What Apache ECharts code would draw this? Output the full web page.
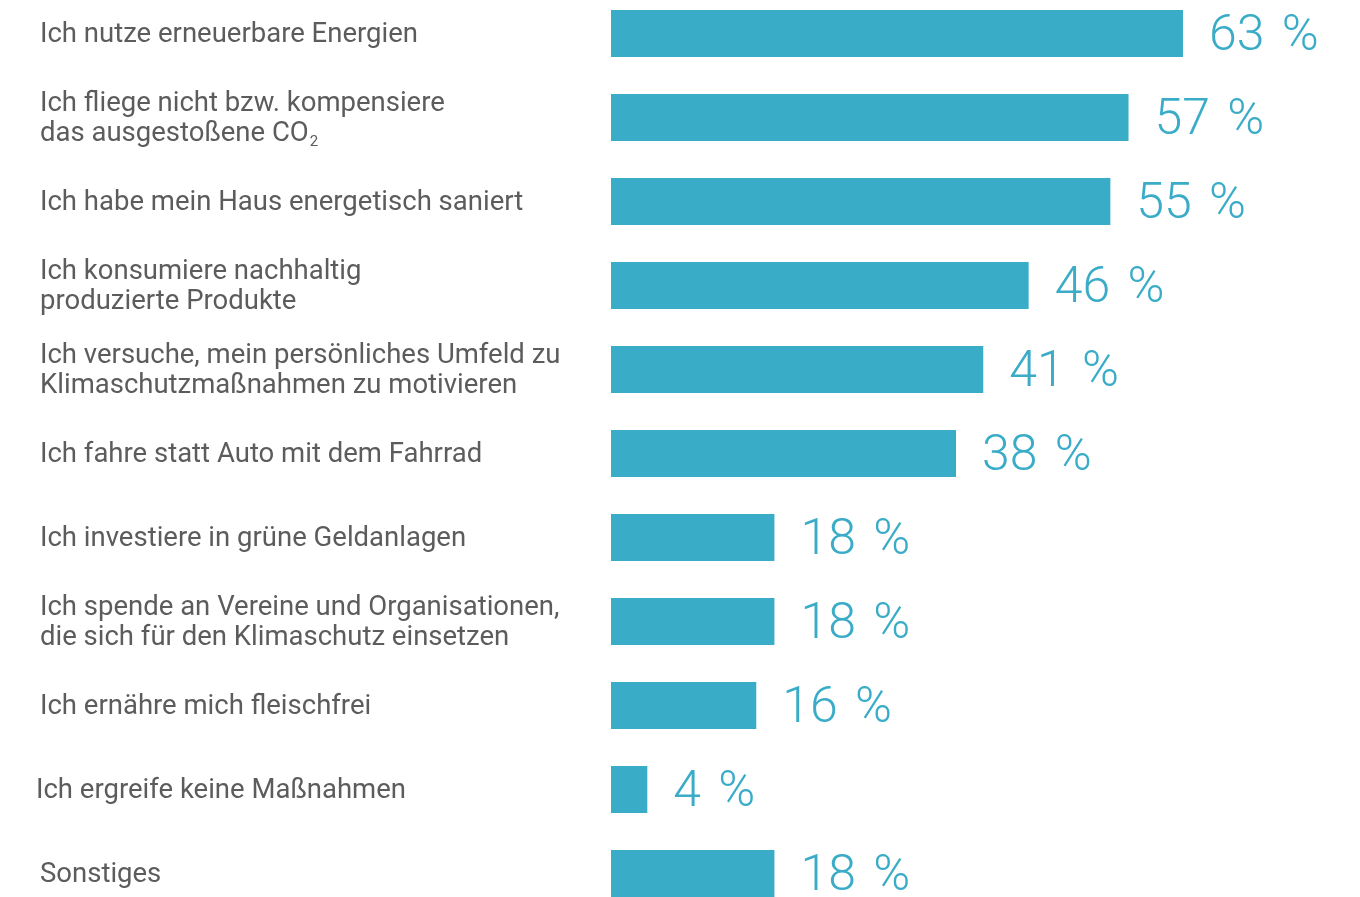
<!DOCTYPE html>
<html>
<head>
<meta charset="utf-8">
<script src="https://cdn.jsdelivr.net/npm/echarts@6/dist/echarts.min.js"></script>
<style>
  html, body { margin: 0; padding: 0; background: #fff; }
  #chart { width: 1360px; height: 897px; }
</style>
</head>
<body>
<div id="chart"></div>
<script>
const categories = [
  'Ich nutze erneuerbare Energien',
  'Ich fliege nicht bzw. kompensiere\ndas ausgestoßene CO2',
  'Ich habe mein Haus energetisch saniert',
  'Ich konsumiere nachhaltig\nproduzierte Produkte',
  'Ich versuche, mein persönliches Umfeld zu\nKlimaschutzmaßnahmen zu motivieren',
  'Ich fahre statt Auto mit dem Fahrrad',
  'Ich investiere in grüne Geldanlagen',
  'Ich spende an Vereine und Organisationen,\ndie sich für den Klimaschutz einsetzen',
  'Ich ernähre mich fleischfrei',
  'Ich ergreife keine Maßnahmen',
  'Sonstiges'
]
const values = [63, 57, 55, 46, 41, 38, 18, 18, 16, 4, 18]

const chart = echarts.init(document.getElementById('chart'))
const txt = { fontFamily: 'Roboto', fontSize: 27.5, color: '#5c5c5c', lineHeight: 30 }

chart.setOption({
  animation: false,
  grid: { left: 611, width: 572, top: -8.5, height: 924, outerBoundsMode: 'none', containLabel: false },
  xAxis: { type: 'value', min: 0, max: 63, show: false },
  yAxis: {
    type: 'category',
    data: categories,
    inverse: true,
    axisLine: { show: false },
    axisTick: { show: false },
    axisLabel: {
      align: 'left',
      margin: 575,
      padding: [4, 0, 0, 0],
      ...txt,
      formatter: function (v) {
        const pad = v === 'Ich ergreife keine Maßnahmen' ? 'n' : 'p'
        return v.split('\n').map(function (l) {
          if (l.endsWith('CO2')) return '{' + pad + '|' + l.slice(0, -1) + '}{sub|2}'
          return '{' + pad + '|' + l + '}'
        }).join('\n')
      },
      rich: {
        p: { ...txt, padding: [0, 0, 0, 4] },
        n: { ...txt },
        sub: { fontFamily: 'Roboto', fontSize: 15, color: '#5c5c5c', lineHeight: 18, padding: [14, 0, 0, 1], verticalAlign: 'bottom' }
      }
    }
  },
  series: [{
    type: 'bar',
    data: values,
    barWidth: 47,
    itemStyle: { color: '#39acc8' },
    label: {
      show: true,
      position: 'right',
      distance: 26,
      offset: [0, 4],
      formatter: '{c}\u200a %',
      fontFamily: 'Roboto',
      fontWeight: 300,
      fontSize: 50,
      color: '#3aacc8'
    }
  }]
})
</script>
</body>
</html>
